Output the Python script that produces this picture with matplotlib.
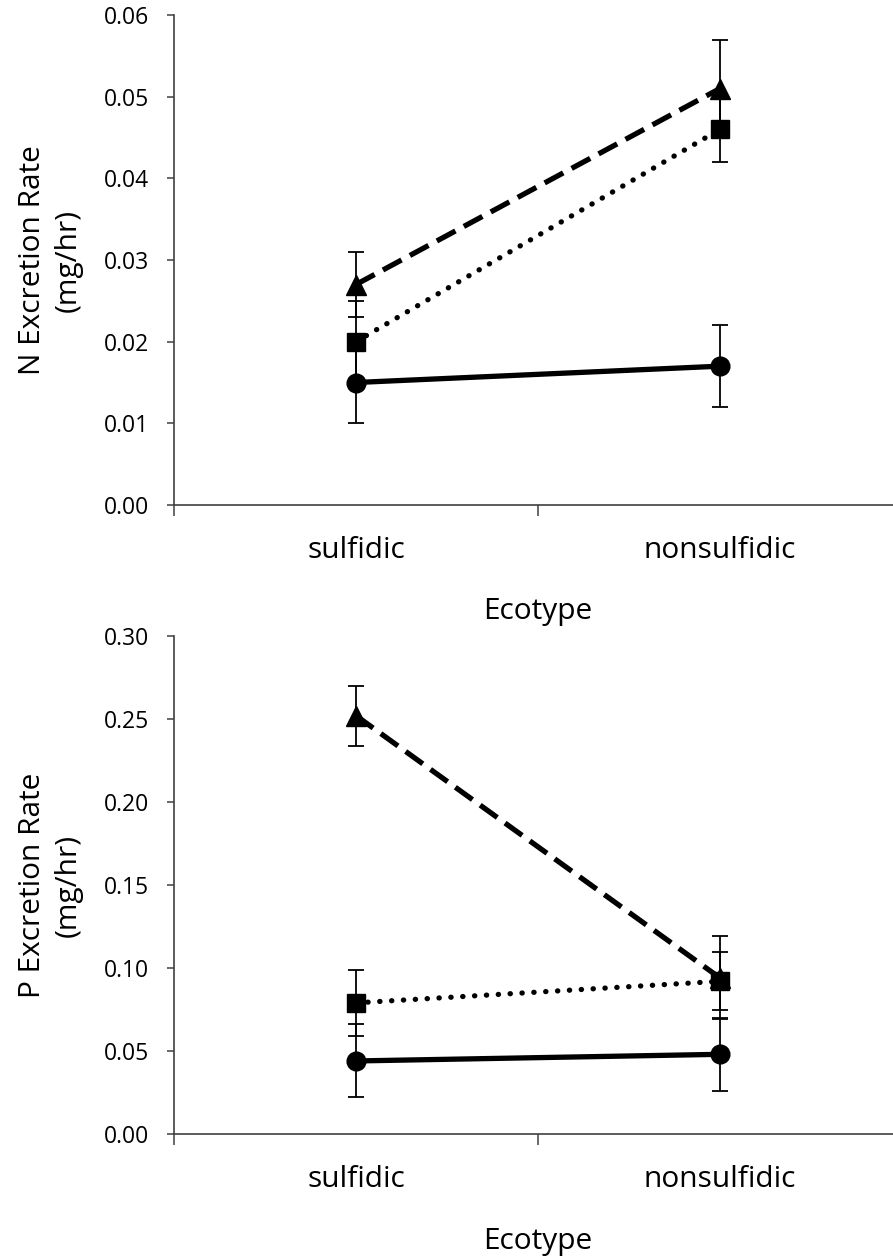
import matplotlib
matplotlib.use("Agg")
import matplotlib.pyplot as plt
import numpy as np

# ecotype categories
ecotypes = ["sulfidic", "nonsulfidic"]

# N excretion (mg/hr), three groups: circle / square / triangle
n_circle = [0.015, 0.017]
n_circle_err = [0.005, 0.005]
n_square = [0.020, 0.046]
n_square_err = [0.005, 0.004]
n_triangle = [0.027, 0.051]
n_triangle_err = [0.004, 0.006]

# P excretion (mg/hr)
p_circle = [0.044, 0.048]
p_circle_err = [0.022, 0.022]
p_square = [0.079, 0.092]
p_square_err = [0.020, 0.0175]
p_triangle = [0.252, 0.094]
p_triangle_err = [0.018, 0.025]

n_ticks = [0.00, 0.01, 0.02, 0.03, 0.04, 0.05, 0.06]
p_ticks = [0.00, 0.05, 0.10, 0.15, 0.20, 0.25, 0.30]

plt.rcParams["font.family"] = ["Open Sans", "DejaVu Sans"]

fig = plt.figure(figsize=(8.93, 12.6), dpi=100)
W, H = 893, 1260
ax_n = fig.add_axes([174 / W, 1 - 505 / H, 728 / W, 490 / H])
ax_p = fig.add_axes([174 / W, 1 - 1134 / H, 728 / W, 498 / H])

axis_col = "#404040"
x = np.arange(len(ecotypes))


def draw_panel(ax, circ, circ_err, sq, sq_err, tri, tri_err, ticks, ylabel, axh):
    # error bars under the markers
    for vals, errs in [(circ, circ_err), (tri, tri_err), (sq, sq_err)]:
        ax.errorbar(x, vals, yerr=errs, fmt="none", ecolor="black",
                    elinewidth=1.3, capsize=5.5, capthick=1.3, zorder=2)
    lw = 3.8
    ax.plot(x, circ, color="black", lw=lw, marker="o", ms=13.5,
            solid_capstyle="round", zorder=3)
    ax.plot(x, tri, color="black", lw=lw, marker="^", ms=14,
            dashes=(4.0, 1.8), dash_capstyle="butt", zorder=3)
    ax.plot(x, sq, color="black", lw=lw, marker="s", ms=12.5,
            dashes=(0.05, 2.2), dash_capstyle="round", zorder=4)

    ax.set_xlim(-0.5, 1.5)
    ax.set_ylim(ticks[0], ticks[-1])
    ax.set_yticks(ticks)
    ax.set_yticklabels([f"{t:.2f}" for t in ticks], fontsize=16.5)

    # category boundaries as major ticks, names as minor tick labels
    ax.set_xticks([-0.5, 0.5, 1.5])
    ax.set_xticklabels([])
    ax.set_xticks(x, minor=True)
    ax.set_xticklabels(ecotypes, minor=True, fontsize=21.5)
    ax.tick_params(axis="x", which="major", direction="out", length=8,
                   width=1.1, color=axis_col)
    ax.tick_params(axis="x", which="minor", length=0, pad=22)
    ax.tick_params(axis="y", direction="out", length=5, width=1.1,
                   color=axis_col, pad=13)

    for s in ["top", "right"]:
        ax.spines[s].set_visible(False)
    for s in ["left", "bottom"]:
        ax.spines[s].set_color(axis_col)
        ax.spines[s].set_linewidth(1.2)

    ax.set_xlabel("Ecotype", fontsize=21.5, va="center")
    ax.xaxis.set_label_coords(0.5, -107 / axh)
    ax.set_ylabel(ylabel, fontsize=21.5, va="center", linespacing=1.3)
    ax.yaxis.set_label_coords(-124 / 728, 0.5)
    for sp in ax.spines.values():
        sp.set_clip_on(False)


draw_panel(ax_n, n_circle, n_circle_err, n_square, n_square_err,
           n_triangle, n_triangle_err, n_ticks,
           "N Excretion Rate\n(mg/hr)", 490)
draw_panel(ax_p, p_circle, p_circle_err, p_square, p_square_err,
           p_triangle, p_triangle_err, p_ticks,
           "P Excretion Rate\n(mg/hr)", 498)

fig.savefig("out.png", dpi=100)
